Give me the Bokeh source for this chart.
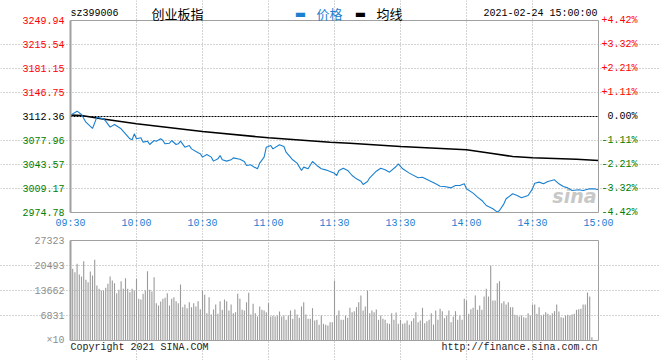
from bokeh.plotting import figure
from bokeh.models import Range1d, FixedTicker
from bokeh.layouts import column
from bokeh.core.properties import value
from bokeh.embed import file_html
from bokeh.resources import INLINE

# ---------------- data ----------------
symbol = "sz399006"
index_name = "创业板指"
stamp = "2021-02-24 15:00:00"
legend_price = "价格"
legend_avg = "均线"
copyright_text = "Copyright 2021 SINA.COM"
url_text = "http://finance.sina.com.cn"

prev_close = 3112.36
price_ticks = [2974.78, 3009.17, 3043.57, 3077.96, 3112.36, 3146.75, 3181.15, 3215.54, 3249.94]
pct_labels = ["-4.42%", "-3.32%", "-2.21%", "-1.11%", "0.00%", "+1.11%", "+2.21%", "+3.32%", "+4.42%"]

time_ticks = [0, 30, 60, 90, 120, 150, 180, 210, 240]
time_labels = ["09:30", "10:00", "10:30", "11:00", "11:30", "13:30", "14:00", "14:30", "15:00"]

# price line (minute index from 09:30, lunch break removed)
price_min = [0, 3, 5, 7, 10, 12, 15, 16, 18, 20, 23, 25, 27, 28, 29, 30, 32, 33, 35, 36,
             38, 39, 41, 42, 43, 45, 46, 48, 49, 50, 52, 54, 55, 58, 59, 60, 62, 64, 65, 67,
             68, 69, 71, 73, 74, 77, 79, 80, 82, 83, 85, 86, 88, 89, 91, 92, 95, 97, 98, 101,
             103, 105, 106, 108, 110, 112, 114, 116, 118, 120, 121, 122, 124, 126, 128, 130, 132, 133, 135, 136,
             139, 141, 143, 145, 148, 149, 151, 154, 158, 160, 163, 166, 168, 170, 173, 175, 177, 179, 180, 183,
             185, 187, 189, 192, 194, 195, 197, 198, 201, 203, 205, 208, 210, 211, 213, 215, 217, 220, 222, 224,
             226, 228, 231, 233, 236, 238, 240]
price_val = [3114.3, 3120.0, 3115.2, 3104.2, 3095.2, 3111.4, 3109.0, 3105.7, 3097.1, 3100.9,
             3094.7, 3087.5, 3080.4, 3079.0, 3087.5, 3080.4, 3081.8, 3075.6, 3077.0, 3072.2,
             3078.0, 3077.0, 3080.4, 3078.0, 3073.2, 3074.1, 3078.0, 3072.2, 3073.2, 3077.0,
             3068.4, 3070.8, 3066.0, 3060.3, 3058.9, 3054.1, 3057.9, 3054.1, 3048.4, 3051.7,
             3056.5, 3050.3, 3048.4, 3050.3, 3053.1, 3051.2, 3047.9, 3042.2, 3043.1, 3040.7,
             3037.4, 3045.5, 3054.1, 3068.4, 3070.8, 3066.0, 3071.8, 3069.4, 3061.2, 3050.3,
             3045.5, 3035.0, 3039.8, 3037.4, 3047.9, 3042.2, 3037.4, 3035.9, 3033.6, 3031.0,
             3027.8, 3035.0, 3038.3, 3035.0, 3027.8, 3023.0, 3019.7, 3014.9, 3019.2, 3024.5,
             3034.0, 3038.3, 3035.9, 3032.6, 3040.7, 3044.5, 3037.4, 3031.2, 3024.5, 3025.4,
             3020.6, 3015.9, 3012.5, 3012.1, 3010.1, 3013.5, 3013.5, 3015.9, 3008.7, 3002.5,
             2996.8, 2992.0, 2984.8, 2980.1, 2975.3, 2977.7, 2987.2, 2994.4, 3001.6, 2999.2,
             2995.8, 2999.2, 3008.7, 3016.8, 3018.3, 3015.9, 3019.2, 3021.6, 3015.9, 3012.1,
             3010.1, 3006.3, 3007.3, 3006.3, 3008.7, 3008.7, 3007.3]

# average price line
avg_min = [0, 5, 14, 30, 60, 90, 118, 127, 150, 180, 191, 201, 210, 230, 240]
avg_val = [3114.3, 3113.8, 3109.1, 3101.9, 3090.9, 3081.8, 3075.5, 3074.1, 3069.4,
           3064.6, 3059.8, 3055.0, 3053.2, 3051.2, 3049.3]

# volume per minute (axis unit x10)
volume = [
    18850, 19580, 18670, 20950, 18030, 17490, 21680, 16580, 15940, 18850,
    17760, 22040, 15030, 14120, 13660, 13660, 14390, 15480, 17490, 16390,
    15670, 12930, 13840, 16210, 14120, 17030, 14120, 13210, 14120, 13660,
    16850,
    11390, 11200, 12750, 13660, 18950, 13840, 13390, 17300, 10200, 9560,
    10660, 11390, 11660, 12930, 9560, 11390, 11840, 10750, 10200, 15300,
    9110, 9840, 8840, 10470, 9110, 10200, 9290, 10750, 8560, 13660,
    12480, 7470, 11840, 7100, 8470, 9840, 7290, 10750, 8380, 11200,
    10750, 8200, 9840, 7470, 7740, 12750, 11390, 8380, 8200, 10470,
    13020, 7100, 10020, 7470, 6560, 9290, 8380, 8200, 7740, 10200,
    6560, 6740, 6560, 6830, 7920, 6560, 6830, 5650, 6830, 8200,
    5920, 8470, 7100, 6190, 9290, 10470, 7100, 5920, 5920, 8840,
    5470, 5650, 4280, 6830, 4550, 4280, 4100, 5010,
    5010, 16390,
    6830, 8200, 5650, 5650, 6830, 6190, 8930, 7740, 8020, 9110,
    10470, 12300, 8200, 9290, 13660, 7470, 8200, 7740, 8470, 5650,
    6830, 5920, 5650, 4740, 4550, 7470, 5650, 7650, 4550, 5650,
    4550, 4740, 5470, 4280, 5280, 6100, 7740, 5010, 5470, 8930,
    4740, 5280, 5650, 7470, 4370, 8200, 5650, 8650, 8020, 6100,
    6830, 8200, 5010, 6560, 8020, 5650, 6830, 5650, 11390, 10930,
    7290, 8560, 8930, 12300, 8380, 9560, 8380, 12020, 14120, 12020,
    20490, 10930, 10930, 15670, 16210, 10200, 10750, 9840, 10470, 9110,
    9110, 7010, 6830, 6560, 6830, 6380, 6190, 7470, 6830, 9840,
    9840, 7290, 9110, 6830, 7100, 7740, 7290, 6830, 7470, 8020,
    9840, 7920, 6380, 6190, 6830, 7010, 6830, 7100, 7290, 8380,
    8560, 8650, 9840, 9840,
    13120, 12020, 910, 0, 0, 0]
vol_ticks = [0, 6831, 13662, 20493, 27323]
vol_labels = ["×10", "6831", "13662", "20493", "27323"]

# ---------------- layout / style ----------------
W = 660
LEFT, RIGHT = 70, 62               # px margins around both chart boxes
P_H, P_TOP, P_BOT = 232, 20, 20    # price panel figure height and margins
V_H, V_TOP, V_BOT = 128, 8, 20     # volume panel figure height and margins

MONO = value("Liberation Mono")
CJK = value("Noto Sans CJK SC")
BLUE = "#1a80d0"
GRID = "#a8a8a8"
BORDER = "#a0a0a0"
RED = "#ff0000"
GREEN = "#008000"

def lvl_color(v):
    if abs(v - prev_close) < 1e-6:
        return "black"
    return RED if v > prev_close else GREEN

tick_colors = [lvl_color(v) for v in price_ticks]

x0, x1 = time_ticks[0], time_ticks[-1]
px_per_x = (W - LEFT - RIGHT) / (x1 - x0)
x_range_args = (x0 - LEFT / px_per_x, x1 + RIGHT / px_per_x)

def padded(lo, hi, h, top, bot):
    per_px = (hi - lo) / (h - top - bot)
    return Range1d(lo - bot * per_px, hi + top * per_px)

def base_fig(h, yr):
    f = figure(width=W, height=h, x_range=Range1d(*x_range_args), y_range=yr,
               x_axis_location=None, y_axis_location=None,
               output_backend="svg", toolbar_location=None,
               min_border_left=0, min_border_right=0, min_border_top=0, min_border_bottom=0)
    f.outline_line_color = None
    f.background_fill_color = "white"
    f.border_fill_color = "white"
    return f

# ---------------- price panel ----------------
plo, phi = price_ticks[0], price_ticks[-1]
p = base_fig(P_H, padded(plo, phi, P_H, P_TOP, P_BOT))

p.xgrid.ticker = FixedTicker(ticks=time_ticks[1:-1])
p.xgrid.bounds = (plo, phi)
p.xgrid.grid_line_color = GRID
p.xgrid.grid_line_dash = "1 2"
p.ygrid.ticker = FixedTicker(ticks=[t for t in price_ticks[1:-1] if abs(t - prev_close) > 1e-6])
p.ygrid.bounds = (x0, x1)
p.ygrid.grid_line_color = GRID
p.ygrid.grid_line_dash = "1 2"

# watermark
p.text(x=[x1], y=[plo], text=["sina"], x_offset=-2, y_offset=-6, text_align="right",
       text_baseline="bottom", text_color="#c8c8c8", text_font=value("DejaVu Sans"),
       text_font_style="bold italic", text_font_size="19px")

p.line([x0, x1], [prev_close, prev_close], line_color="black", line_dash="2 1", line_width=1)
p.line(avg_min, avg_val, line_color="black", line_width=1.6)
p.line(price_min, price_val, line_color=BLUE, line_width=1.1)

p.quad(left=[x0], right=[x1], bottom=[plo], top=[phi], fill_color=None,
       line_color=BORDER, line_width=1)
p.line([x0, x0], [plo, phi], line_color=BORDER, line_width=2)

p.text(x=[x0] * len(price_ticks), y=price_ticks, text=[f"{t:.2f}" for t in price_ticks],
       text_color=tick_colors, x_offset=-6, text_align="right", text_baseline="middle",
       text_font=MONO, text_font_size="10px")
p.text(x=[x1] * len(price_ticks), y=price_ticks, text=pct_labels,
       text_color=tick_colors, x_offset=39, text_align="right", text_baseline="middle",
       text_font=MONO, text_font_size="10px")
p.text(x=time_ticks, y=[plo] * len(time_ticks), text=time_labels, y_offset=11,
       text_color=BLUE, text_align="center", text_baseline="middle",
       text_font=MONO, text_font_size="10px")

def head(text, x, dx, align, color, font, size, style="normal"):
    p.text(x=[x], y=[phi], text=[text], x_offset=dx, y_offset=-7, text_align=align,
           text_baseline="middle", text_color=color, text_font=font, text_font_size=size,
           text_font_style=style)

head(symbol, x0, 0, "left", "black", MONO, "10px")
head(index_name, x0, 107, "center", "black", CJK, "13px")
head("▬", x0, 230, "center", BLUE, value("DejaVu Sans"), "12px")
head(legend_price, x0, 246, "left", BLUE, CJK, "13px")
head("▬", x0, 290, "center", "black", value("DejaVu Sans"), "12px")
head(legend_avg, x0, 306, "left", "black", CJK, "13px")
head(stamp, x1, -1, "right", "black", MONO, "10px")

# ---------------- volume panel ----------------
vlo, vhi = vol_ticks[0], vol_ticks[-1]
v = base_fig(V_H, padded(vlo, vhi, V_H, V_TOP, V_BOT))

v.xgrid.ticker = FixedTicker(ticks=time_ticks[1:-1])
v.xgrid.bounds = (vlo, vhi)
v.xgrid.grid_line_color = GRID
v.xgrid.grid_line_dash = "1 2"
v.ygrid.ticker = FixedTicker(ticks=vol_ticks[1:-1])
v.ygrid.bounds = (x0, x1)
v.ygrid.grid_line_color = GRID
v.ygrid.grid_line_dash = "1 2"
v.ygrid.level = "overlay"

v.vbar(x=list(range(len(volume))), top=volume, bottom=vlo, width=0.5,
       fill_color="#9a9a9a", line_color=None)

v.quad(left=[x0], right=[x1], bottom=[vlo], top=[vhi], fill_color=None,
       line_color=BORDER, line_width=1)
v.line([x0, x0], [vlo, vhi], line_color=BORDER, line_width=2)

v.text(x=[x0] * len(vol_ticks), y=vol_ticks, text=vol_labels, text_color="#8c8c8c",
       x_offset=-6, text_align="right", text_baseline="middle",
       text_font=MONO, text_font_size="10px")
v.text(x=[x0], y=[vlo], text=[copyright_text], y_offset=7, text_align="left",
       text_baseline="middle", text_color="#222222", text_font=MONO, text_font_size="10px")
v.text(x=[x1], y=[vlo], text=[url_text], x_offset=-1, y_offset=7, text_align="right",
       text_baseline="middle", text_color="#222222", text_font=MONO, text_font_size="10px")

layout = column(p, v, spacing=0)
open("out.html", "w").write(file_html(layout, INLINE))
